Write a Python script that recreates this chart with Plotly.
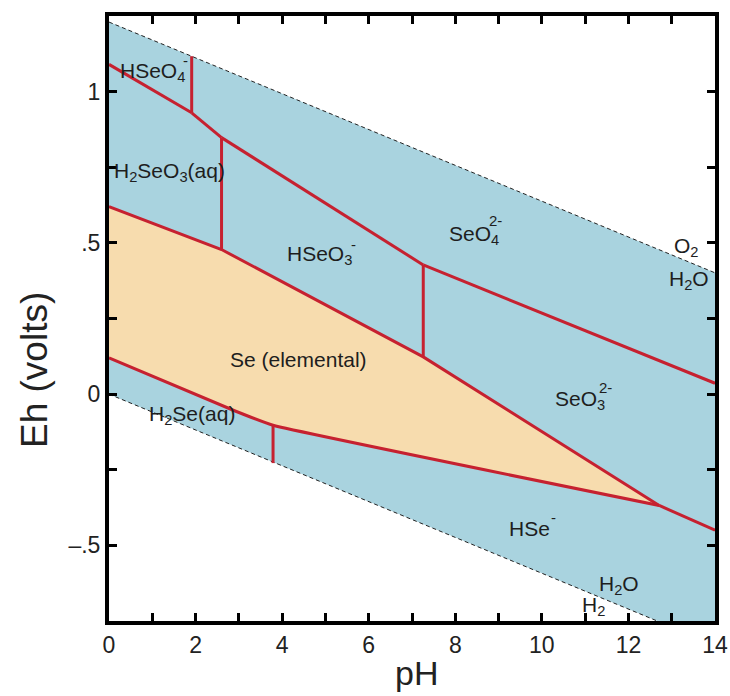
import plotly.graph_objects as go

# ---- data ----
x_ticks = [0, 1, 2, 3, 4, 5, 6, 7, 8, 9, 10, 11, 12, 13, 14]
x_tick_text = ["0", "", "2", "", "4", "", "6", "", "8", "", "10", "", "12", "", "14"]
y_ticks = [-0.5, -0.25, 0, 0.25, 0.5, 0.75, 1.0]
y_tick_text = ["–.5", "", "0", "", ".5", "", "1"]

# water stability limits
water_ph = [0, 14]
o2_h2o_eh = [1.23, 0.401]
h2o_h2_eh = [0.0, -0.829]

# Se (elemental) field
se_upper_ph = [0, 2.6, 7.26, 12.71]
se_upper_eh = [0.62, 0.478, 0.123, -0.368]
se_lower_ph = [12.71, 3.79, 2.9, 0]
se_lower_eh = [-0.368, -0.103, -0.055, 0.12]

# other boundaries
hseo4_h2seo3_ph = [0, 1.91]
hseo4_h2seo3_eh = [1.09, 0.93]
hseo4_seo4_ph = [1.91, 1.91]
hseo4_seo4_eh = [0.93, 1.117]
seo4_h2seo3_ph = [1.91, 2.6]
seo4_h2seo3_eh = [0.93, 0.848]
h2seo3_hseo3_ph = [2.6, 2.6]
h2seo3_hseo3_eh = [0.848, 0.478]
seo4_hseo3_ph = [2.6, 7.26]
seo4_hseo3_eh = [0.848, 0.427]
hseo3_seo3_ph = [7.26, 7.26]
hseo3_seo3_eh = [0.427, 0.123]
seo4_seo3_ph = [7.26, 14]
seo4_seo3_eh = [0.427, 0.036]
h2se_hse_ph = [3.79, 3.79]
h2se_hse_eh = [-0.103, -0.228]
hse_seo3_ph = [12.71, 14]
hse_seo3_eh = [-0.368, -0.45]

# field labels (left edge, vertical centre)
label_text = ["HSeO<sub>4</sub>", "H<sub>2</sub>SeO<sub>3</sub>(aq)", "HSeO<sub>3</sub>",
              "SeO<sub>4</sub>", "O<sub>2</sub>", "H<sub>2</sub>O", "Se (elemental)",
              "SeO<sub>3</sub>", "H<sub>2</sub>Se(aq)", "HSe", "H<sub>2</sub>O", "H<sub>2</sub>"]
label_ph = [0.21, 0.07, 4.07, 7.81, 13.0, 12.89, 2.75, 10.26, 0.88, 9.19, 11.27, 10.88]
label_eh = [1.064, 0.735, 0.46, 0.526, 0.487, 0.377, 0.113, -0.02, -0.07, -0.443, -0.632, -0.70]

# charges stacked above the subscripts
charge_text = ["-", "-", "2-", "2-", "-"]
charge_ph = [1.66, 5.54, 8.73, 11.27, 10.16]
charge_eh = [1.104, 0.496, 0.575, 0.023, -0.407]

# ---- styles ----
BLUE = "#a9d3df"
TAN = "#f7dcae"
RED = "#c62130"
TXT = "#1e1e1e"
FONT = "Liberation Sans, Arial, sans-serif"

fig = go.Figure()

# water stability field
fig.add_trace(go.Scatter(
    x=water_ph + water_ph[::-1], y=o2_h2o_eh + h2o_h2_eh[::-1],
    fill="toself", fillcolor=BLUE, mode="lines", line=dict(width=0),
    hoverinfo="skip", showlegend=False))

# Se field
fig.add_trace(go.Scatter(
    x=se_upper_ph + se_lower_ph, y=se_upper_eh + se_lower_eh,
    fill="toself", fillcolor=TAN, mode="lines", line=dict(width=0),
    hoverinfo="skip", showlegend=False))

# water lines
for ys in (o2_h2o_eh, h2o_h2_eh):
    fig.add_trace(go.Scatter(x=water_ph, y=ys, mode="lines",
                             line=dict(color="#222222", width=1, dash="4px,3px"),
                             hoverinfo="skip", showlegend=False))

# curved Se / H2Se boundary
fig.add_trace(go.Scatter(x=se_lower_ph, y=se_lower_eh, mode="lines",
                         line=dict(color=RED, width=3, shape="spline", smoothing=0.3),
                         hoverinfo="skip", showlegend=False))

boundaries = [
    (se_upper_ph, se_upper_eh),
    (hseo4_h2seo3_ph, hseo4_h2seo3_eh), (hseo4_seo4_ph, hseo4_seo4_eh),
    (seo4_h2seo3_ph, seo4_h2seo3_eh), (h2seo3_hseo3_ph, h2seo3_hseo3_eh),
    (seo4_hseo3_ph, seo4_hseo3_eh), (hseo3_seo3_ph, hseo3_seo3_eh),
    (seo4_seo3_ph, seo4_seo3_eh), (h2se_hse_ph, h2se_hse_eh),
    (hse_seo3_ph, hse_seo3_eh),
]
for xs, ys in boundaries:
    fig.add_trace(go.Scatter(x=xs, y=ys, mode="lines",
                             line=dict(color=RED, width=3),
                             hoverinfo="skip", showlegend=False))

for t, px, py in zip(label_text, label_ph, label_eh):
    fig.add_annotation(x=px, y=py, xref="x", yref="y", text=t, showarrow=False,
                       xanchor="left", yanchor="middle",
                       font=dict(family=FONT, size=21, color=TXT))
for t, px, py in zip(charge_text, charge_ph, charge_eh):
    fig.add_annotation(x=px, y=py, xref="x", yref="y", text=t, showarrow=False,
                       xanchor="left", yanchor="middle",
                       font=dict(family=FONT, size=15, color=TXT))

# axis titles
fig.add_annotation(x=-0.122, y=0.415, xref="paper", yref="paper", text="Eh (volts)",
                   textangle=-90, showarrow=False, xanchor="center", yanchor="middle",
                   font=dict(family=FONT, size=37, color="#222222"))
fig.add_annotation(x=0.508, y=-0.086, xref="paper", yref="paper", text="pH",
                   showarrow=False, xanchor="center", yanchor="middle",
                   font=dict(family=FONT, size=34, color="#222222"))

axis_common = dict(
    showgrid=False, zeroline=False, showline=True, linecolor="black", linewidth=4,
    mirror="allticks", ticks="inside", ticklen=8, tickwidth=3, tickcolor="black",
    tickfont=dict(family=FONT, size=23, color="#222222"),
)

fig.update_xaxes(range=[0, 14], tickmode="array", tickvals=x_ticks, ticktext=x_tick_text,
                 **axis_common)
fig.update_yaxes(range=[-0.75, 1.25], tickmode="array", tickvals=y_ticks, ticktext=y_tick_text,
                 **axis_common)

fig.update_layout(
    width=730, height=696,
    margin=dict(l=109, r=15, t=16, b=75, autoexpand=False),
    paper_bgcolor="white", plot_bgcolor="white",
)

fig.write_html("out.html", config={"displayModeBar": False},
               post_script="document.body.style.margin='0px';document.body.style.overflow='hidden';")
